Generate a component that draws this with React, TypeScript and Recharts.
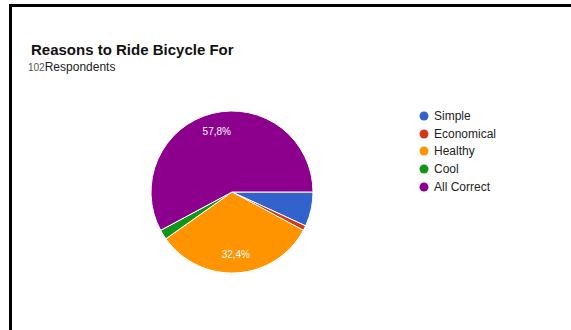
import React from 'react';
import { PieChart, Pie, Cell, Legend } from 'recharts';

// Survey answers, 102 respondents
const reasons = ['Simple', 'Economical', 'Healthy', 'Cool', 'All Correct'];
const counts = [7, 1, 33, 2, 59];
const sliceColors = ['#3262cc', '#d23a14', '#ff9400', '#109618', '#8d008d'];

const data = reasons.map((name, i) => ({ name, value: counts[i] }));

const RADIAN = Math.PI / 180;

// percentage label inside the bigger slices, Google style with comma decimals
const renderLabel = ({ cx, cy, midAngle, outerRadius, percent }: any) => {
  if (percent < 0.1) return null;
  const r = outerRadius * 0.77;
  const x = cx + r * Math.cos(-midAngle * RADIAN);
  const y = cy + r * Math.sin(-midAngle * RADIAN);
  return (
    <text
      x={x}
      y={y}
      fill="#fff"
      fontSize={10}
      fontFamily="Liberation Sans, Arial, sans-serif"
      textAnchor="middle"
      dominantBaseline="central"
    >
      {(percent * 100).toFixed(1).replace('.', ',') + '%'}
    </text>
  );
};

// keep legend in data order (recharts would sort it by name)
const LegendList = () => (
  <div>
    {reasons.map((name, i) => (
      <div
        key={`leg-${i}`}
        style={{ display: 'flex', alignItems: 'center', height: 17.8, fontSize: 12, color: '#222' }}
      >
        <svg width={10} height={10} style={{ marginRight: 5 }}>
          <circle cx={5} cy={5} r={4.5} fill={sliceColors[i]} />
        </svg>
        <span>{name}</span>
      </div>
    ))}
  </div>
);

const App = () => {
  return (
    <div
      style={{
        position: 'absolute',
        left: 0,
        top: 0,
        width: 571,
        height: 330,
        background: '#fff',
        fontFamily: 'Liberation Sans, Arial, sans-serif',
        overflow: 'hidden',
      }}
    >
      <div
        style={{
          position: 'absolute',
          left: 9,
          top: 4,
          width: 562,
          height: 326,
          borderLeft: '3px solid #000',
          borderTop: '3px solid #000',
        }}
      />
      <div style={{ position: 'absolute', left: 31, top: 41, fontSize: 15, fontWeight: 'bold', color: '#111' }}>
        Reasons to Ride Bicycle For
      </div>
      <div style={{ position: 'absolute', left: 28, top: 60, fontSize: 12, color: '#222' }}>
        <span style={{ fontSize: 10, color: '#555' }}>102</span>Respondents
      </div>
      <PieChart
        width={571}
        height={330}
        margin={{ top: 0, right: 0, bottom: 0, left: 0 }}
        style={{ position: 'absolute', left: 0, top: 0 }}
      >
        <Pie
          data={data}
          dataKey="value"
          nameKey="name"
          cx={232}
          cy={192}
          outerRadius={81}
          startAngle={0}
          endAngle={-360}
          stroke="#fff"
          strokeWidth={1}
          label={renderLabel}
          labelLine={false}
          isAnimationActive={false}
        >
          {data.map((entry, index) => (
            <Cell key={`cell-${index}`} fill={sliceColors[index]} />
          ))}
        </Pie>
        <Legend
          layout="vertical"
          content={<LegendList />}
          wrapperStyle={{ position: 'absolute', left: 419, top: 107, width: 120 }}
        />
      </PieChart>
    </div>
  );
};

export default App;
